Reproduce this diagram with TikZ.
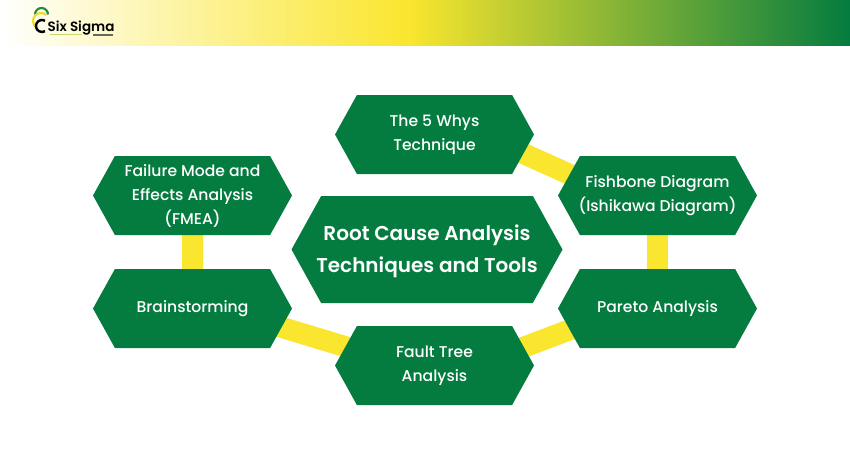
\documentclass[tikz,border=0pt]{standalone}
\usepackage{fontspec}
\setmainfont{Poppins Medium}
\newfontfamily\rootfont{Poppins SemiBold}
\usepackage{xcolor}
\usetikzlibrary{positioning,shapes.symbols,backgrounds}
\definecolor{hexgreen}{HTML}{047C3F}
\definecolor{linkyellow}{HTML}{FAE62E}
\pgfdeclarehorizontalshading{headband}{100bp}{
  color(0bp)=(white);
  color(25bp)=(white);
  color(49bp)=(linkyellow);
  color(75bp)=(hexgreen);
  color(100bp)=(hexgreen)}
\newcommand{\hexline}[1]{\makebox[0pt]{#1}}
\tikzset{
  hexbox/.style={shape=signal, signal to=east and west, signal pointer angle=122,
    fill=hexgreen, text=white, align=center, inner sep=0pt, outer sep=0pt,
    minimum width=199pt, minimum height=79pt, font=\fontsize{15.6}{24}\selectfont},
  link/.style={draw=linkyellow, line width=21pt},
}
\begin{document}
\begin{tikzpicture}[x=1pt,y=-1pt]
    \useasboundingbox (0,0) rectangle (850,450);

    % centre
    \node[hexbox, minimum width=271pt, minimum height=107pt, font=\rootfont\fontsize{20}{32}\selectfont] (root) at (427,249.5) {\rule{0pt}{20pt}\hexline{Root Cause Analysis}\\\hexline{Techniques and Tools}};

    % ring
    \node[hexbox] (whys) at (434.5,134.5) {The 5 Whys\\Technique};
    \node[hexbox] (fish) at (657.5,195.5) {\hexline{Fishbone Diagram}\\\hexline{(Ishikawa Diagram)}};
    \node[hexbox, below=34pt of fish] (pareto) {Pareto Analysis};
    \node[hexbox] (fault) at (434.5,365.5) {Fault Tree\\Analysis};
    \node[hexbox] (fmea) at (192.5,195.5) {Failure Mode and\\Effects Analysis\\(FMEA)};
    \node[hexbox, below=34pt of fmea] (brain) {Brainstorming};

    \begin{scope}[on background layer]
      \fill[white] (0,0) rectangle (850,450);
      \shade[shading=headband] (0,0) rectangle (850,45);
      \draw[link] (fmea) -- (brain);
      \draw[link] (fish) -- (pareto);
      \draw[link] ([yshift=8pt]brain.center) -- ([yshift=-8pt]fault.center);
      \draw[link] ([yshift=-15.5pt]fault.center) -- ([yshift=12pt]pareto.center);
      \draw[link] ([yshift=21pt]whys.center) -- ([yshift=-18.5pt]fish.center);
    \end{scope}

    % logo
    \draw[hexgreen!85!lime, line width=2.2pt] (35,14.5) arc (180:360:6.5);
    \draw[linkyellow!90!olive, line width=2.2pt] (35.9,27.1) arc (130:310:8);
    \draw[black, line width=2.4pt] (45,20.8) arc (300:60:6);
    \node[font=\rootfont\fontsize{13.5}{13.5}\selectfont, inner sep=0pt] (logotext) at (81,28) {Six Sigma};
    \draw[linkyellow!70!hexgreen!70, line width=0.6pt] (50,34.5) -- (82,34.5);
    \draw[black!60, line width=1.6pt] (93,35) -- (113,35);
\end{tikzpicture}
\end{document}
